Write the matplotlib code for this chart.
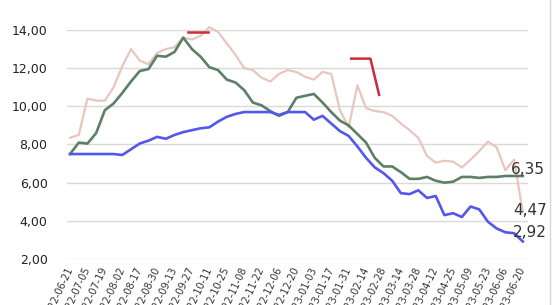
import matplotlib
matplotlib.use('Agg')
from matplotlib import pyplot as plt
from matplotlib.lines import Line2D

dates = ['2022-06-21', '2022-07-05', '2022-07-19', '2022-08-02', '2022-08-17', '2022-08-30',
         '2022-09-13', '2022-09-27', '2022-10-11', '2022-10-25', '2022-11-08', '2022-11-22',
         '2022-12-06', '2022-12-20', '2023-01-03', '2023-01-17', '2023-01-31', '2023-02-14',
         '2023-02-28', '2023-03-14', '2023-03-28', '2023-04-12', '2023-04-25', '2023-05-09',
         '2023-05-23', '2023-06-06', '2023-06-20']

pink = [8.35, 8.5, 10.4, 10.3, 10.3, 11.0, 12.1, 13.0, 12.4, 12.2, 12.8, 13.0, 13.1, 13.6,
        13.5, 13.7, 14.15, 13.9, 13.3, 12.7, 12.0, 11.9, 11.5, 11.3, 11.7, 11.9, 11.8, 11.55,
        11.4, 11.8, 11.7, 9.8, 8.9, 11.1, 9.9, 9.75, 9.7, 9.5, 9.1, 8.75, 8.35, 7.4,
        7.05, 7.15, 7.1, 6.8, 7.2, 7.65, 8.15, 7.85, 6.65, 7.2, 4.47]
green = [7.5, 8.1, 8.05, 8.6, 9.8, 10.15, 10.7, 11.3, 11.85, 11.95, 12.65, 12.6, 12.85, 13.6,
         13.0, 12.6, 12.05, 11.9, 11.4, 11.25, 10.85, 10.2, 10.05, 9.75, 9.5, 9.7, 10.45, 10.55,
         10.65, 10.2, 9.7, 9.25, 9.0, 8.55, 8.1, 7.3, 6.85, 6.85, 6.55, 6.2, 6.2, 6.3,
         6.1, 6.0, 6.05, 6.3, 6.3, 6.25, 6.3, 6.3, 6.35, 6.35, 6.35]
blue = [7.5, 7.5, 7.5, 7.5, 7.5, 7.5, 7.45, 7.75, 8.05, 8.2, 8.4, 8.3, 8.5, 8.65,
        8.75, 8.85, 8.9, 9.2, 9.45, 9.6, 9.7, 9.7, 9.7, 9.7, 9.55, 9.7, 9.7, 9.7,
        9.3, 9.5, 9.1, 8.7, 8.45, 7.9, 7.3, 6.8, 6.5, 6.1, 5.45, 5.4, 5.6, 5.2,
        5.3, 4.3, 4.4, 4.2, 4.75, 4.6, 3.95, 3.6, 3.4, 3.35, 2.92]

# red marks (x in week index)
red1_x = [13.6, 15.8]
red1_y = [13.9, 13.9]
red2_x = [32.3, 34.5, 35.5]
red2_y = [12.5, 12.5, 10.6]

x = list(range(len(green)))

fig = plt.figure(figsize=(5.54, 3.05), dpi=100)
ax = fig.add_axes([67/554, 1-259/305, (528-67)/554, (259-30)/305])

ax.plot(x, pink, color='#e8c6bd', lw=1.6, clip_on=False, zorder=3, solid_joinstyle='round')
ax.plot(x, green, color='#5d7f66', lw=1.9, clip_on=False, zorder=4, solid_joinstyle='round')
ax.plot(x, blue, color='#5257ee', lw=1.9, clip_on=False, zorder=5, solid_joinstyle='round')
ax.plot(red1_x, red1_y, color='#d0283e', lw=1.8, clip_on=False, zorder=6)
ax.plot(red2_x, red2_y, color='#d0283e', lw=1.8, clip_on=False, zorder=6)

# end labels
offs = [(-12, 6), (-10, 1), (-10, 9)]
for s, o in zip([green, pink, blue], offs):
    ax.annotate(('%.2f' % s[-1]).replace('.', ','), (x[-1], s[-1]), xytext=o,
                textcoords='offset pixels', ha='left', va='center', fontsize=11,
                color='#333333', zorder=7)

ax.set_ylim(2, 14)
ax.set_xlim(-0.35, 52.6)
yt = [2, 4, 6, 8, 10, 12, 14]
ax.set_yticks(yt)
ax.set_yticklabels([('%.2f' % v).replace('.', ',') for v in yt], fontsize=9, color='#222222')
ax.set_xticks(x[::2])
ax.set_xticklabels(dates, rotation=65, ha='right', va='center', rotation_mode='anchor',
                   fontsize=7, color='#333333')
ax.tick_params(axis='both', length=0)
ax.tick_params(axis='y', pad=14)
ax.tick_params(axis='x', pad=6)
ax.grid(axis='y', color='#d9d9d9', lw=1)
ax.set_axisbelow(True)
for sp in ax.spines.values():
    sp.set_visible(False)

fig.add_artist(Line2D([550/554, 550/554], [0, 1], transform=fig.transFigure, color='#d6d6d6', lw=1))

plt.savefig('out.png', dpi=100)
